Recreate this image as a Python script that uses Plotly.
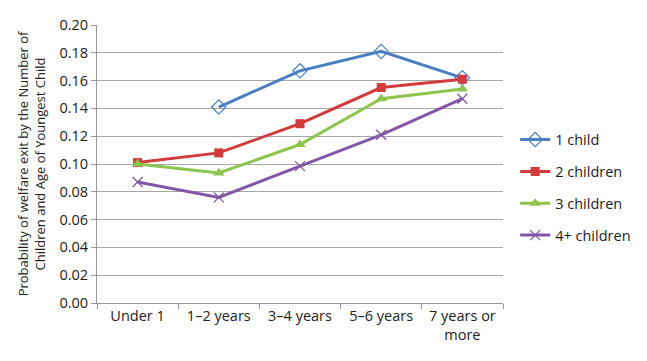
import plotly.graph_objects as go

categories = ["Under 1", "1\u20132 years", "3\u20134 years", "5\u20136 years", "7 years or<br>more"]
series_names = ["1 child", "2 children", "3 children", "4+ children"]
one_child = [None, 0.141, 0.167, 0.181, 0.162]
two_children = [0.101, 0.108, 0.129, 0.155, 0.161]
three_children = [0.100, 0.0935, 0.114, 0.147, 0.154]
four_plus = [0.087, 0.076, 0.0985, 0.121, 0.147]
y_ticks = [0.00, 0.02, 0.04, 0.06, 0.08, 0.10, 0.12, 0.14, 0.16, 0.18, 0.20]

colors = ["#4A7EC1", "#D23B3B", "#8DC44E", "#8357A7"]
markers = [
    dict(symbol="diamond-open", size=11, line=dict(width=1.2, color="#4A7EC1")),
    dict(symbol="square", size=9),
    dict(symbol="triangle-up", size=10),
    dict(symbol="x-thin-open", size=10, line=dict(width=1.3, color="#8357A7")),
]
data = [one_child, two_children, three_children, four_plus]

fig = go.Figure()
for i, (name, vals) in enumerate(zip(series_names, data)):
    fig.add_trace(go.Scatter(
        x=categories, y=vals, name=name, mode="lines+markers",
        line=dict(color=colors[i], width=3),
        marker=dict(color=colors[i], **markers[i]),
        legendgroup=name,
        connectgaps=False,
    ))

font = "Open Sans, Noto Sans, Liberation Sans, sans-serif"
fig.update_layout(
    width=647, height=361,
    margin=dict(l=97, r=144, t=25, b=58, autoexpand=False),
    paper_bgcolor="white", plot_bgcolor="white",
    font=dict(family=font, size=14, color="#222"),
    showlegend=True,
    legend=dict(x=1.03, y=0.415, xanchor="left", yanchor="middle",
                font=dict(size=14.5), tracegroupgap=10, itemwidth=30,
                bgcolor="rgba(0,0,0,0)"),
    xaxis=dict(type="category", showgrid=False, showline=True, linecolor="#999",
               linewidth=1, ticks="outside", ticklen=5, tickcolor="#999",
               tickson="boundaries", tickfont=dict(size=14.5), range=[-0.5, 4.5],
               automargin=False),
    yaxis=dict(range=[0, 0.2], tickvals=y_ticks, tickformat=".2f",
               showgrid=True, gridcolor="#A6A6A6", gridwidth=1,
               showline=True, linecolor="#999", linewidth=1,
               ticks="outside", ticklen=5, tickcolor="#999",
               tickfont=dict(size=14.5), zeroline=False, automargin=False,
               title=dict(text="Probability of welfare exit by the Number of<br>Children and Age of Youngest Child",
                          font=dict(size=13), standoff=10)),
)
fig.write_html("out.html", config={"displayModeBar": False},
               post_script="document.body.style.margin='0';")
